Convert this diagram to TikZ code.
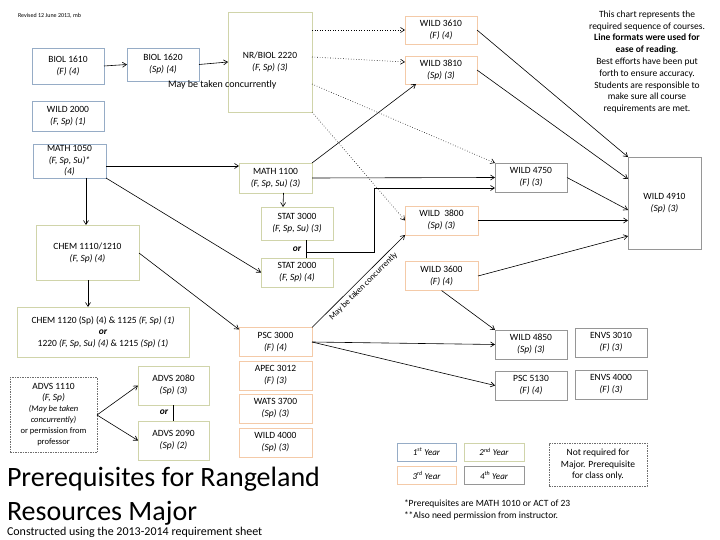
\documentclass[tikz,border=0pt]{standalone}
\usepackage{fontspec}
\setmainfont{Carlito}
\usetikzlibrary{arrows.meta,calc}
\definecolor{yrA}{RGB}{150,172,198}
\definecolor{yrB}{RGB}{208,212,170}
\definecolor{yrC}{RGB}{244,202,168}
\definecolor{yrD}{RGB}{150,150,150}
\definecolor{dashgray}{RGB}{110,110,110}
\begin{document}
\begin{tikzpicture}[x=1pt,y=-1pt,
  every node/.style={inner sep=0pt,outer sep=0pt},
  crs/.style={draw,line width=0.7pt,fill=white,align=center,font=\fontsize{9.5}{12}\selectfont},
  cA/.style={crs,draw=yrA},
  cB/.style={crs,draw=yrB},
  cC/.style={crs,draw=yrC},
  cD/.style={crs,draw=yrD},
  dashbox/.style={crs,draw=dashgray,dash pattern=on 1.5pt off 1pt},
  arr/.style={-{Straight Barb[length=4pt,width=5pt]},line width=0.6pt},
  dotarr/.style={arr,dotted},
  plain/.style={line width=0.6pt},
  orlbl/.style={font=\fontsize{9.5}{11}\selectfont\bfseries\itshape}
]
\useasboundingbox (0,0) rectangle (720,540);

% text
\node[anchor=west,font=\fontsize{6}{7}\selectfont] (rev) at (18,16) {Revised 12 June 2013, mb};
\node[align=center,font=\fontsize{9.5}{11.8}\selectfont] (note) at (647,62) {This chart represents the\\required sequence of courses.\\\textbf{Line formats were used for}\\\textbf{ease of reading}.\\Best efforts have been put\\forth to ensure accuracy.\\Students are responsible to\\make sure all course\\requirements are met.};

% first year
\node[cA,minimum width=72,minimum height=36] (biolA) at (68,66) {BIOL 1610\\\textit{(F) (4)}};
\node[cA,minimum width=72,minimum height=33] (biolB) at (163,64.5) {BIOL 1620\\\textit{(Sp) (4)}};
\node[cA,minimum width=72,minimum height=30] (wildB) at (68,116) {WILD 2000\\\textit{(F, Sp) (1)}};
\node[cA,minimum width=73,minimum height=34,font=\fontsize{9.5}{11.5}\selectfont] (mathA) at (69.5,161) {MATH 1050\\\textit{(F, Sp, Su)*}\\\textit{(4)}};

% second year
\node[cB,minimum width=84,minimum height=100] (nrbiol) at (270,62) {NR/BIOL 2220\\\textit{(F, Sp) (3)}};
\node[anchor=base west,font=\fontsize{10}{12}\selectfont] (conc) at (168,88) {May be taken concurrently};
\node[cB,minimum width=103,minimum height=55] (chemA) at (87.5,252.5) {CHEM 1110/1210\\\textit{(F, Sp) (4)}};
\node[cB,minimum width=172,minimum height=50,font=\fontsize{9.5}{11.5}\selectfont] (chemB) at (103,332) {CHEM 1120 (Sp) (4) \& 1125 \textit{(F, Sp) (1)}\\\textbf{\textit{or}}\\1220 \textit{(F, Sp, Su) (4)} \& 1215 \textit{(Sp) (1)}};
\node[cB,minimum width=73,minimum height=30] (mathB) at (275.5,178) {MATH 1100\\\textit{(F, Sp, Su) (3)}};
\node[cB,minimum width=72,minimum height=33] (statA) at (297,223.5) {STAT 3000\\\textit{(F, Sp, Su) (3)}};
\node[cB,minimum width=72,minimum height=29] (statB) at (297,272.5) {STAT 2000\\\textit{(F, Sp) (4)}};
\node[cB,minimum width=71,minimum height=39] (advsB) at (173.5,385.5) {ADVS 2080\\\textit{(Sp) (3)}};
\node[cB,minimum width=71,minimum height=39] (advsC) at (173.5,440.5) {ADVS 2090\\\textit{(Sp) (2)}};
\node[dashbox,minimum width=87,minimum height=75,font=\fontsize{9.5}{11}\selectfont] (advsA) at (53.5,415) {ADVS 1110\\\textit{(F, Sp)}\\{\fontsize{8.5}{11}\selectfont\textit{(May be taken}}\\{\fontsize{8.5}{11}\selectfont\textit{concurrently)}}\\{\fontsize{8.5}{11}\selectfont or permission from}\\{\fontsize{8.5}{11}\selectfont professor}};

% third year
\node[cC,minimum width=73,minimum height=29] (psc) at (275.5,342) {PSC 3000\\\textit{(F) (4)}};
\node[cC,minimum width=73,minimum height=29] (apec) at (275.5,375.5) {APEC 3012\\\textit{(F) (3)}};
\node[cC,minimum width=73,minimum height=29] (wats) at (275.5,408.5) {WATS 3700\\\textit{(Sp) (3)}};
\node[cC,minimum width=73,minimum height=29] (wildF) at (275.5,442.5) {WILD 4000\\\textit{(Sp) (3)}};
\node[cC,minimum width=72,minimum height=28] (w3610) at (441,30) {WILD 3610\\\textit{(F) (4)}};
\node[cC,minimum width=72,minimum height=28] (w3810) at (441,70) {WILD 3810\\\textit{(Sp) (3)}};
\node[cC,minimum width=73,minimum height=29] (w3800) at (441.5,220.5) {WILD \ 3800\\\textit{(Sp) (3)}};
\node[cC,minimum width=73,minimum height=29] (w3600) at (441.5,276) {WILD 3600\\\textit{(F) (4)}};

% fourth year
\node[cD,minimum width=72,minimum height=29] (w4750) at (531,177.5) {WILD 4750\\\textit{(F) (3)}};
\node[cD,minimum width=73,minimum height=92] (w4910) at (664.5,203) {WILD 4910\\\textit{(Sp) (3)}};
\node[cD,minimum width=72,minimum height=29] (w4850) at (531,344.5) {WILD 4850\\\textit{(Sp) (3)}};
\node[cD,minimum width=72,minimum height=29] (envsA) at (611,342.5) {ENVS 3010\\\textit{(F) (3)}};
\node[cD,minimum width=72,minimum height=29] (psc5) at (531,385.5) {PSC 5130\\\textit{(F) (4)}};
\node[cD,minimum width=72,minimum height=29] (envsB) at (611,384.5) {ENVS 4000\\\textit{(F) (3)}};

% legend
\node[cA,minimum width=59,minimum height=18,font=\fontsize{9}{11}\selectfont\itshape] (legA) at (426.5,452) {1\textsuperscript{st} Year};
\node[cB,minimum width=60,minimum height=18,font=\fontsize{9}{11}\selectfont\itshape] (legB) at (494,452) {2\textsuperscript{nd} Year};
\node[cC,minimum width=59,minimum height=18,font=\fontsize{9}{11}\selectfont\itshape] (legC) at (426.5,475.5) {3\textsuperscript{rd} Year};
\node[cD,minimum width=60,minimum height=18,font=\fontsize{9}{11}\selectfont\itshape] (legD) at (494,475.5) {4\textsuperscript{th} Year};
\node[dashbox,minimum width=98,minimum height=43,font=\fontsize{9.5}{11.5}\selectfont] (notreq) at (598,464.5) {Not required for\\Major. Prerequisite\\for class only.};

\node[anchor=base west,font=\fontsize{9.5}{12}\selectfont] (fnA) at (404,506.5) {*Prerequisites are MATH 1010 or ACT of 23};
\node[anchor=base west,font=\fontsize{9.5}{12}\selectfont] (fnB) at (404,518.5) {**Also need permission from instructor.};

\node[anchor=base west,font=\fontsize{28}{34}\selectfont] (titleA) at (7,486) {Prerequisites for Rangeland};
\node[anchor=base west,font=\fontsize{28}{34}\selectfont] (titleB) at (7,520) {Resources Major};
\node[anchor=base west,font=\fontsize{12}{14}\selectfont] (sub) at (7,535) {Constructed using the 2013-2014 requirement sheet};

% or labels
\node[orlbl] (orS) at (297,249) {or};
\node[orlbl] (orA) at (164,412.5) {or};

% connectors
\draw[arr] (biolA.east) -- (biolB.west);
\draw[arr] (biolB.east) -- (nrbiol.west);
\draw[dotarr] ($(nrbiol.north east)+(0,18)$) -- (w3610.west);
\draw[dotarr] ($(nrbiol.east)+(0,-5)$) -- ($(w3810.west)+(0,-8)$);
\draw[dotarr] ($(nrbiol.east)+(0,22)$) -- (w4750.north west);
\draw[dotarr] (nrbiol.south east) -- (w3800.west);
\draw[arr] (mathB.north east) -- ($(w3810.south west)+(11,0)$);
\draw[arr] (w3610.east) -- (w4910.north west);
\draw[arr] (w3810.east) -- ($(w4910.north west)+(0,22)$);
\draw[arr] (w4750.east) -- ($(w4910.west)+(0,7)$);
\draw[arr] (w3800.east) -- (w4910.west |- w3800.east);
\draw[arr] (w3600.east) -- ($(w4910.west)+(0,33)$);
\draw[arr] (mathA.east |- 0,166) -- (mathB.west |- 0,166);
\draw[arr] ($(mathA.south)+(16.5,0)$) -- (chemA.north -| 86,0);
\draw[arr] (mathA.south east) -- (statB.west);
\draw[arr] (mathB.east) -- (w4750.west);
\draw[arr] ($(mathB.south)+(8,0)$) -- ($(statA.north)+(-14,0)$);
\draw[plain] ($(statA.south)+(9,0)$) -- ($(statB.north)+(9,0)$);
\coordinate (orJ) at ($(statA.south)+(9,12)$);
\coordinate (bendA) at (374,252);
\coordinate (bendB) at (374,188);
\draw[arr] (orJ) -- (bendA) -- (bendB) -- (w4750.west |- bendB);
\draw[arr] (chemA.south -| 88,0) -- (chemB.north -| 88,0);
\draw[arr] ($(chemA.east)+(0,0.5)$) -- ($(psc.north west)+(0,2)$);
\draw[arr] (psc.north east) -- (w3800.south west);
\node[rotate=44.7,font=\fontsize{8.5}{10}\selectfont] (concB) at ($(psc.north east)!0.5!(w3800.south west)+(5,5)$) {May be taken concurrently};
\draw[arr] (psc.east) -- (w4850.west);
\draw[arr] (psc.east) -- (psc5.west);
\draw[arr] (w3600.south) -- (w4850.north west);
\draw[arr] (advsA.east) -- (advsB.west);
\draw[arr] (advsA.east) -- (advsC.west);
\draw[plain] (advsB.south) -- (advsC.north);
\end{tikzpicture}
\end{document}
